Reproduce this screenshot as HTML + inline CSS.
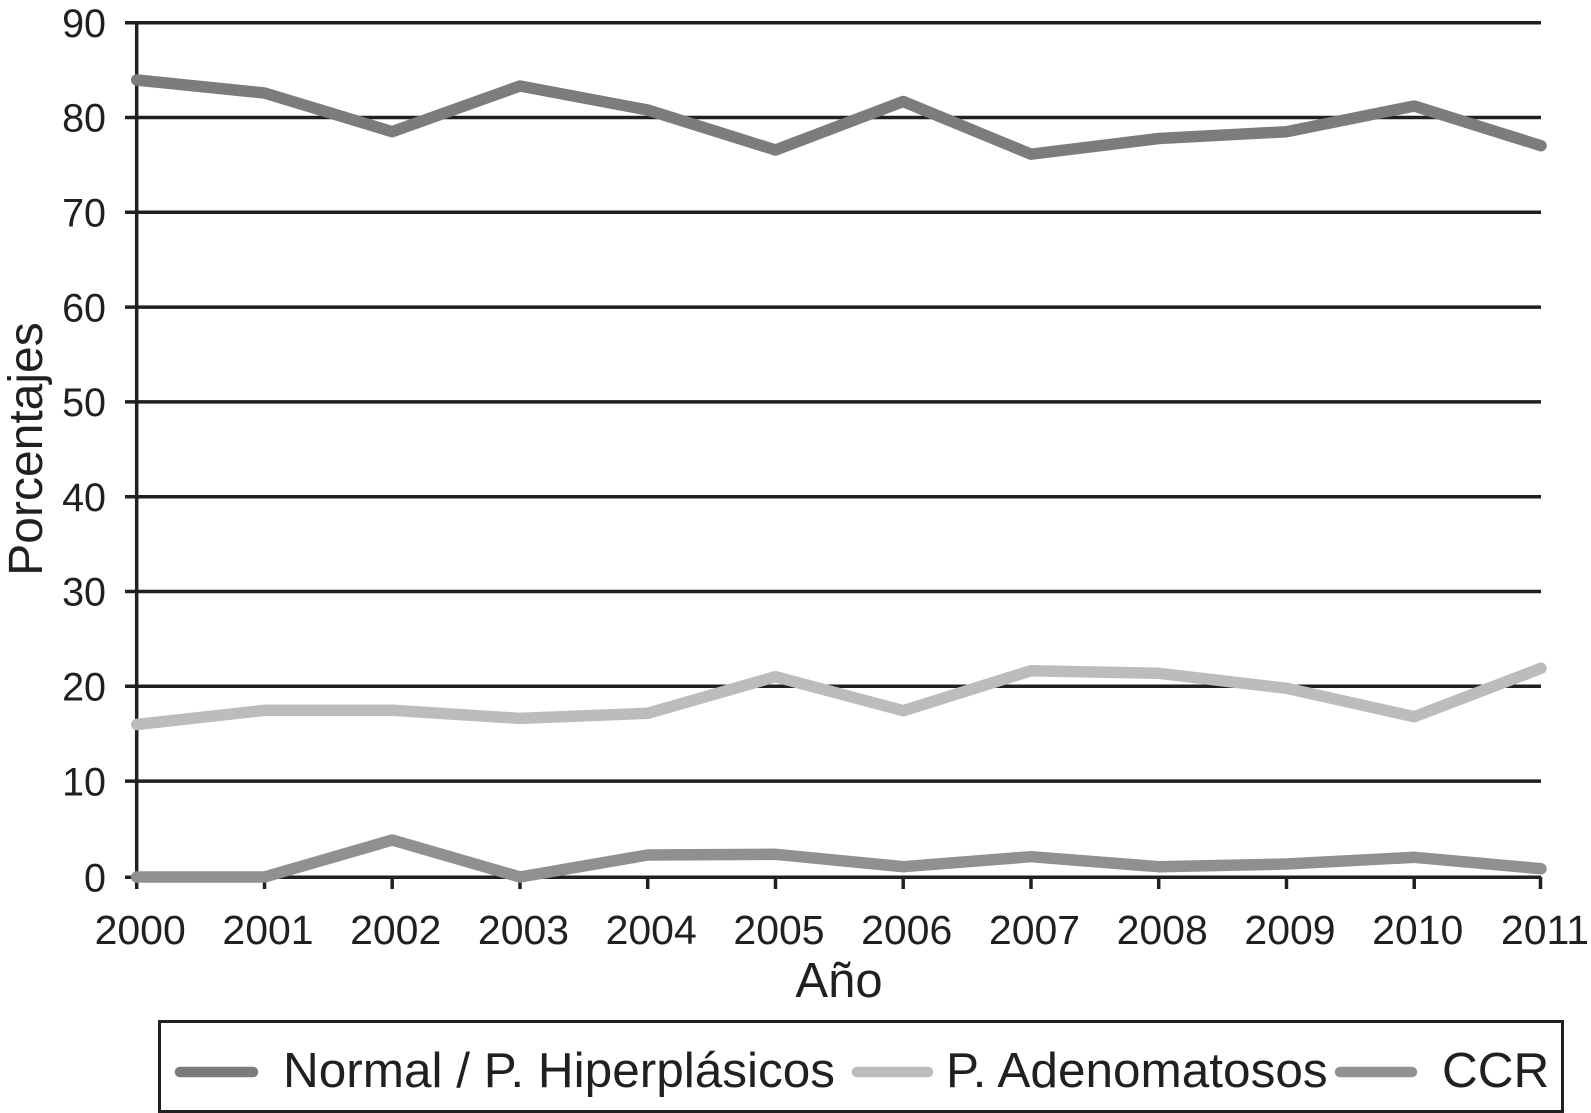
<!DOCTYPE html>
<html>
<head>
<meta charset="utf-8">
<style>
  html, body { margin:0; padding:0; background:#ffffff; }
  svg { display:block; }
  text { font-family: "Liberation Sans", Arial, sans-serif; fill:#231f20; }
</style>
</head>
<body>
<svg width="1591" height="1113" viewBox="0 0 1591 1113" xmlns="http://www.w3.org/2000/svg">
  <rect x="0" y="0" width="1591" height="1113" fill="#ffffff"/>

  <!-- gridlines -->
  <g stroke="#231f20" stroke-width="3.5">
    <line x1="125" y1="22.7" x2="1541" y2="22.7"/>
    <line x1="125" y1="117.5" x2="1541" y2="117.5"/>
    <line x1="125" y1="212.3" x2="1541" y2="212.3"/>
    <line x1="125" y1="307.1" x2="1541" y2="307.1"/>
    <line x1="125" y1="401.9" x2="1541" y2="401.9"/>
    <line x1="125" y1="496.7" x2="1541" y2="496.7"/>
    <line x1="125" y1="591.5" x2="1541" y2="591.5"/>
    <line x1="125" y1="686.3" x2="1541" y2="686.3"/>
    <line x1="125" y1="781.1" x2="1541" y2="781.1"/>
    <line x1="125" y1="877.3" x2="1541" y2="877.3"/>
    <!-- y axis -->
    <line x1="136.7" y1="21" x2="136.7" y2="889"/>
    <!-- x ticks -->
    <line x1="264.5" y1="877" x2="264.5" y2="889"/>
    <line x1="392.2" y1="877" x2="392.2" y2="889"/>
    <line x1="520" y1="877" x2="520" y2="889"/>
    <line x1="647.7" y1="877" x2="647.7" y2="889"/>
    <line x1="775.5" y1="877" x2="775.5" y2="889"/>
    <line x1="903.2" y1="877" x2="903.2" y2="889"/>
    <line x1="1031" y1="877" x2="1031" y2="889"/>
    <line x1="1158.7" y1="877" x2="1158.7" y2="889"/>
    <line x1="1286.5" y1="877" x2="1286.5" y2="889"/>
    <line x1="1414.2" y1="877" x2="1414.2" y2="889"/>
    <line x1="1540.5" y1="877" x2="1540.5" y2="889"/>
  </g>

  <!-- y tick labels -->
  <g font-size="39.5" text-anchor="end">
    <text x="106" y="36.9">90</text>
    <text x="106" y="131.7">80</text>
    <text x="106" y="226.5">70</text>
    <text x="106" y="321.3">60</text>
    <text x="106" y="416.1">50</text>
    <text x="106" y="510.9">40</text>
    <text x="106" y="605.7">30</text>
    <text x="106" y="700.5">20</text>
    <text x="106" y="795.3">10</text>
    <text x="106" y="891.5">0</text>
  </g>

  <!-- x tick labels -->
  <g font-size="41" text-anchor="middle">
    <text x="140.2" y="944">2000</text>
    <text x="268" y="944">2001</text>
    <text x="395.7" y="944">2002</text>
    <text x="523.5" y="944">2003</text>
    <text x="651.2" y="944">2004</text>
    <text x="779" y="944">2005</text>
    <text x="906.7" y="944">2006</text>
    <text x="1034.5" y="944">2007</text>
    <text x="1162.2" y="944">2008</text>
    <text x="1290" y="944">2009</text>
    <text x="1417.7" y="944">2010</text>
    <text x="1545" y="944">2011</text>
  </g>

  <!-- axis titles -->
  <text x="839" y="997" font-size="49" text-anchor="middle">Año</text>
  <text transform="translate(42,449) rotate(-90)" font-size="48" text-anchor="middle">Porcentajes</text>

  <!-- series -->
  <g fill="none" stroke-width="11.5" stroke-linecap="round" stroke-linejoin="round">
    <polyline stroke="#7b7c7e" points="136.7,80 264.5,93 392.2,131.7 520,86 647.7,110 775.5,150 903.2,101.5 1031,154.2 1158.7,138.5 1286.5,131.7 1414.2,106 1541,145.7"/>
    <polyline stroke="#bbbcbe" points="136.7,724.5 264.5,710.3 392.2,710.3 520,718.4 647.7,713.3 775.5,676.7 903.2,710.7 1031,670.7 1158.7,673.3 1286.5,688.3 1414.2,716.7 1541,668.3"/>
    <polyline stroke="#8f9092" points="136.7,877 264.5,877 392.2,840 520,877 647.7,855 775.5,854.3 903.2,866.7 1031,856.7 1158.7,866.7 1286.5,864 1414.2,857.3 1541,868.7"/>
  </g>

  <!-- legend -->
  <rect x="159.5" y="1021.5" width="1403" height="90" fill="#ffffff" stroke="#231f20" stroke-width="3"/>
  <g stroke-width="10.5" stroke-linecap="round">
    <line x1="180" y1="1072" x2="253" y2="1072" stroke="#7b7c7e"/>
    <line x1="857" y1="1072" x2="928" y2="1072" stroke="#bbbcbe"/>
    <line x1="1340" y1="1072" x2="1412" y2="1072" stroke="#8f9092"/>
  </g>
  <g font-size="49.5">
    <text x="283" y="1087">Normal / P. Hiperplásicos</text>
    <text x="946" y="1087">P. Adenomatosos</text>
    <text x="1442" y="1087">CCR</text>
  </g>
</svg>
</body>
</html>
